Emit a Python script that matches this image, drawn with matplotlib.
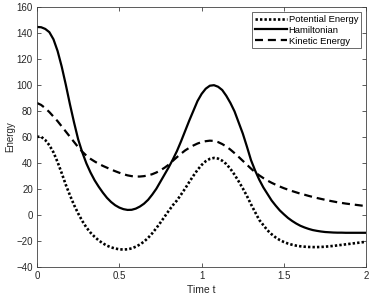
import numpy as np
import matplotlib
matplotlib.use('Agg')
import matplotlib.pyplot as plt

# values, t = 0, 0.025, ..., 2
t = np.linspace(0, 2, 81)
hamiltonian = [144.5, 144.3, 143, 140.5, 135, 126, 114, 100, 85, 71,
               58, 48, 39.5, 32.5, 26.5, 21.5, 17, 13, 9.8, 7.3,
               5.5, 4.3, 3.7, 3.8, 4.7, 6.3, 8.5, 11.5, 15.5, 20,
               25.5, 31, 36.5, 42.5, 49, 56.5, 64.5, 72.5, 80, 87.5,
               93, 97, 99.3, 99.7, 98.5, 96, 91.5, 86, 79.5, 71,
               62.5, 52.5, 42, 34, 27, 21, 16, 11, 7, 3.3,
               0.3, -2.5, -4.8, -6.8, -8.5, -9.8, -10.9, -11.8, -12.4, -12.9,
               -13.3, -13.5, -13.7, -13.8, -13.8, -13.9, -13.9, -13.9, -13.9, -13.9, -13.9]
kinetic = [86, 84.5, 82, 79, 75.5, 72, 68, 64, 60, 56,
           52, 48.5, 45.5, 43, 41, 39.2, 37.6, 36.2, 34.8, 33.5,
           32.3, 31.2, 30.3, 29.7, 29.4, 29.4, 29.7, 30.3, 31.2, 32.5,
           34.2, 36.2, 38.5, 41.5, 44.3, 47, 49.5, 51.5, 53.3, 54.8,
           55.9, 56.6, 57, 56.8, 55.9, 54.4, 52.5, 50.1, 47.4, 44.5,
           41.5, 38.5, 35.5, 32.7, 30.3, 28.2, 26.3, 24.6, 23.1, 21.7,
           20.4, 19.3, 18.2, 17.2, 16.2, 15.4, 14.5, 13.7, 12.9, 12.2,
           11.5, 10.8, 10.2, 9.6, 9.1, 8.6, 8.2, 7.8, 7.4, 7.0, 6.7]
potential = [60, 60, 57.5, 53.5, 48, 40.5, 32, 23, 15, 7.5,
             1, -4.8, -9.8, -13.8, -17, -19.8, -22, -23.8, -25.1, -26,
             -26.6, -26.8, -26.6, -25.9, -24.6, -22.9, -20.7, -17.8, -14.3, -10.3,
             -6, -1.5, 3, 7.3, 11, 15.5, 20.2, 25.2, 30, 34.5,
             38.3, 41.2, 43, 43.7, 43.2, 41.6, 39, 35.3, 30.8, 25.7,
             20.3, 14.5, 8, 2, -4, -8, -12, -15, -17.5, -19.5,
             -21, -22.2, -23.1, -23.8, -24.3, -24.6, -24.8, -24.9, -24.9, -24.8,
             -24.6, -24.3, -24, -23.6, -23.2, -22.8, -22.4, -22, -21.6, -21.2, -20.8]

plt.rcParams['font.family'] = ['Liberation Sans', 'DejaVu Sans']
plt.rcParams['font.size'] = 7

fig = plt.figure(figsize=(3.72, 2.97), dpi=100)
ax = fig.add_axes([0.0995, 0.102, 0.885, 0.875])

ax.plot(t, potential, color='black', linestyle=(0, (0.9, 0.8)), linewidth=1.9, label='Potential Energy')
ax.plot(t, hamiltonian, color='black', linestyle='-', linewidth=1.6, label='Hamiltonian')
ax.plot(t, kinetic, color='black', linestyle=(0, (3.6, 2.2)), linewidth=1.6, label='Kinetic Energy')

ax.set_xlim(0, 2)
ax.set_ylim(-40, 160)
ax.set_xticks([0, 0.5, 1, 1.5, 2])
ax.set_xticklabels(['0', '0.5', '1', '1.5', '2'])
ax.set_yticks(np.arange(-40, 161, 20))
ax.tick_params(direction='in', top=True, right=True, length=3, width=0.6,
               color='#404040', labelcolor='#262626', pad=3)
for s in ax.spines.values():
    s.set_color('#404040')
    s.set_linewidth(0.6)

ax.set_xlabel('Time t', color='#262626', fontsize=7.5, labelpad=3)
ax.set_ylabel('Energy', color='#262626', labelpad=1)

leg = ax.legend(loc='upper right', fontsize=6.8, frameon=True, fancybox=False,
                edgecolor='#262626', handlelength=3.4, borderaxespad=0.55,
                handletextpad=0.2, labelspacing=0.2, borderpad=0.3)
leg.get_frame().set_linewidth(0.6)

plt.savefig('out.png', dpi=100)
